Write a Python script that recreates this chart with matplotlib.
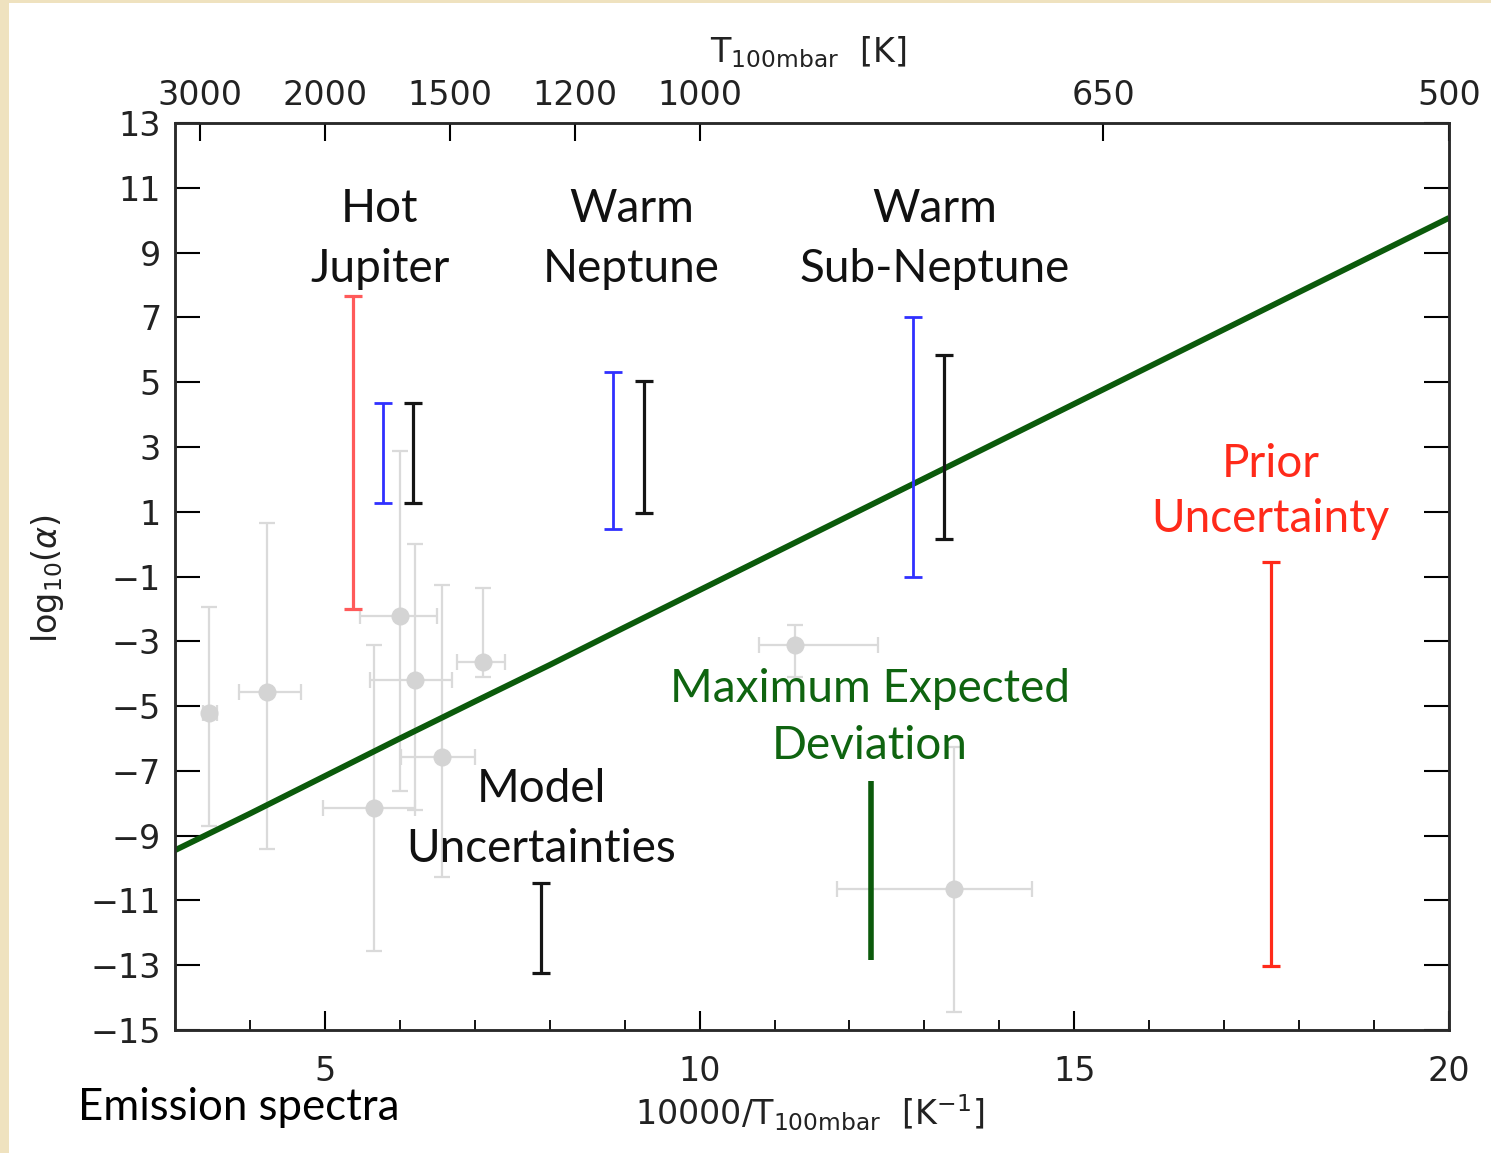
import matplotlib
matplotlib.use("Agg")
import matplotlib.pyplot as plt
from matplotlib.patches import Rectangle
from matplotlib.ticker import MultipleLocator

plt.rcParams['mathtext.fontset'] = 'custom'
plt.rcParams['mathtext.rm'] = 'DejaVu Sans'
plt.rcParams['mathtext.it'] = 'DejaVu Sans:italic'

# ---------------- data ----------------
# grey literature points: x, y, x-error (lo, hi), y-error (lo, hi)
grey_x = [3.46, 4.23, 6.00, 6.20, 6.56, 7.11, 5.66, 11.27, 13.40]
grey_y = [-5.22, -4.58, -2.22, -4.19, -6.56, -3.63, -8.15, -3.11, -10.65]
grey_xlo = [3.38, 3.85, 5.47, 5.60, 6.02, 6.76, 4.97, 10.79, 11.83]
grey_xhi = [3.56, 4.68, 6.49, 6.69, 7.00, 7.41, 6.20, 12.38, 14.43]
grey_ylo = [-8.70, -9.42, -7.61, -8.20, -10.28, -4.11, -12.55, -4.09, -14.43]
grey_yhi = [-1.93, 0.64, 2.86, 0.01, -1.26, -1.36, -3.11, -2.49, -6.25]

# vertical uncertainty bars: x, low, high, colour key
bar_x = [5.38, 5.78, 6.18, 8.85, 9.26, 12.85, 13.26, 7.89, 17.62]
bar_lo = [-2.01, 1.26, 1.26, 0.47, 0.97, -1.02, 0.16, -13.23, -13.02]
bar_hi = [7.67, 4.37, 4.37, 5.31, 5.03, 7.02, 5.84, -10.46, -0.55]
bar_kind = ['hotred', 'blue', 'black', 'blue', 'black', 'blue', 'black', 'black', 'red']

# maximum expected deviation bar
med_x = [12.29]
med_lo = [-12.83]
med_hi = [-7.30]

# green curve
curve_x = [3.0, 4.0, 5.0, 6.0, 7.0, 8.0, 9.0, 10.0, 12.0, 14.0, 16.0, 18.0, 20.0]
curve_y = [-9.45, -8.32, -7.16, -6.00, -4.86, -3.73, -2.57, -1.42, 0.88, 3.18, 5.48, 7.78, 10.07]

# axes / ticks
yticks = list(range(-15, 14, 2))
xticks_major = [5, 10, 15, 20]
top_T = [3000, 2000, 1500, 1200, 1000, 650, 500]

# annotations: text, x, y, colour
labels = [
    ("Hot\nJupiter", 5.73, 9.42, '#111111'),
    ("Warm\nNeptune", 9.09, 9.42, '#111111'),
    ("Warm\nSub-Neptune", 13.14, 9.42, '#111111'),
    ("Prior\nUncertainty", 17.62, 1.63, '#ff2a1a'),
    ("Maximum Expected\nDeviation", 12.27, -5.35, '#0f6410'),
    ("Model\nUncertainties", 7.89, -8.48, '#111111'),
]
label_spacing = [1.52, 1.52, 1.52, 1.40, 1.45, 1.52]

colors = {'hotred': '#ff5a5a', 'blue': '#3030ff', 'black': '#151515', 'red': '#ff2a1a'}

# ---------------- figure ----------------
W, H = 1491, 1153
fig = plt.figure(figsize=(W / 100, H / 100), dpi=100, facecolor='white')
fig.patches.append(Rectangle((0, 0), 9 / W, 1, transform=fig.transFigure,
                             facecolor='#efe2bf', edgecolor='none', zorder=-10))
fig.patches.append(Rectangle((0, 1 - 3 / H), 1, 3 / H, transform=fig.transFigure,
                             facecolor='#efe2bf', edgecolor='none', zorder=-10))

ax = fig.add_axes([175 / W, 1 - 1030 / H, (1449 - 175) / W, (1030 - 123) / H])
ax.set_facecolor('white')

# grey points
for i in range(len(grey_x)):
    ax.errorbar([grey_x[i]], [grey_y[i]],
                xerr=[[grey_x[i] - grey_xlo[i]], [grey_xhi[i] - grey_x[i]]],
                yerr=[[grey_y[i] - grey_ylo[i]], [grey_yhi[i] - grey_y[i]]],
                fmt='o', color='#d4d4d4', ecolor='#dadada', ms=13, mec='none',
                elinewidth=1.6, capsize=5.5, capthick=1.6, zorder=2)

# green curve
ax.plot(curve_x, curve_y, color='#0b5a0b', lw=4.2, solid_capstyle='butt', zorder=3)

# coloured bars
for x, lo, hi, k in zip(bar_x, bar_lo, bar_hi, bar_kind):
    mid = (lo + hi) / 2
    lw = 2.3 if k in ('black', 'red', 'hotred') else 2.0
    ax.errorbar([x], [mid], yerr=[[mid - lo], [hi - mid]], fmt='none',
                ecolor=colors[k], elinewidth=lw, capsize=6.5, capthick=lw, zorder=4)

ax.vlines(med_x, med_lo, med_hi, color='#0b5a0b', lw=4.0, zorder=4)

# text labels
for (txt, x, y, c), ls in zip(labels, label_spacing):
    ax.text(x, y, txt, ha='center', va='center', color=c, fontsize=33,
            family='Lato', linespacing=ls, zorder=5)

# axes formatting
ax.set_xlim(3.0, 20.0)
ax.set_ylim(-15, 13)
ax.set_yticks(yticks)
ax.set_xticks(xticks_major)
ax.xaxis.set_minor_locator(MultipleLocator(1))
ax.tick_params(axis='y', which='major', direction='in', length=18, width=1.5,
               right=True, labelright=False, pad=10, labelsize=24, labelcolor='#222222')
ax.tick_params(axis='x', which='major', direction='in', length=14, width=1.5,
               top=False, pad=18, labelsize=24, labelcolor='#222222')
ax.tick_params(axis='x', which='minor', direction='in', length=7, width=1.3, top=False)
for lab in ax.get_yticklabels() + ax.get_xticklabels():
    lab.set_family('DejaVu Sans')
for s in ax.spines.values():
    s.set_linewidth(1.8)
    s.set_color('#2a2a2a')

# top axis with temperatures
axt = ax.twiny()
axt.set_xlim(ax.get_xlim())
axt.set_xticks([10000 / t for t in top_T])
axt.set_xticklabels([str(t) for t in top_T])
axt.tick_params(axis='x', direction='in', length=13, width=1.5, pad=8,
                labelsize=24, labelcolor='#222222')
for s in axt.spines.values():
    s.set_linewidth(1.8)
    s.set_color('#2a2a2a')

# axis titles
fig.text(47 / W, 1 - 578 / H, r'log$_{10}$($\alpha$)', rotation=90, ha='center', va='center',
         fontsize=24, color='#222222', family='DejaVu Sans')
fig.text(810 / W, 1 - 1113 / H, r'10000/T$_{\mathregular{100mbar}}$  [K$^{-1}$]', ha='center',
         va='center', fontsize=24, color='#222222', family='DejaVu Sans')
fig.text(808 / W, 1 - 52 / H, r'T$_{\mathregular{100mbar}}$  [K]', ha='center', va='center',
         fontsize=24, color='#222222', family='DejaVu Sans')

fig.text(78 / W, 1 - 1107 / H, 'Emission spectra', ha='left', va='center', fontsize=31.5,
         family='Lato', color='black')

fig.savefig('out.png', dpi=100, facecolor=fig.get_facecolor())
